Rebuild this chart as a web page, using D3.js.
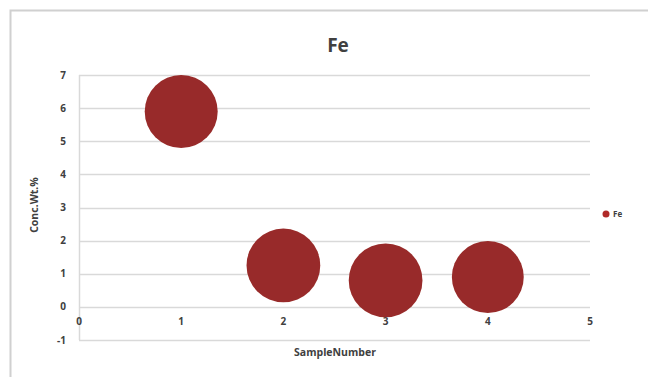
<!DOCTYPE html>
<html>
<head>
<meta charset="utf-8">
<script src="https://cdn.jsdelivr.net/npm/d3@7"></script>
<style>
  body { margin: 0; background: #fff; }
  text { font-family: "Open Sans", "Liberation Sans", sans-serif; fill: #404040; }
</style>
</head>
<body>
<div id="chart"></div>
<script>
// data
var sampleNumber = [1, 2, 3, 4];
var concWt = [5.9, 1.25, 0.8, 0.9];
var bubbleSize = [1, 1.02, 1.02, 0.97];
var xTicks = [0, 1, 2, 3, 4, 5];
var yTicks = [-1, 0, 1, 2, 3, 4, 5, 6, 7];
var seriesName = 'Fe';

var W = 648, H = 377;
var margin = {top: 75, right: 58, bottom: 37, left: 79},
    width = W - margin.left - margin.right,
    height = H - margin.top - margin.bottom;

var svg = d3.select('#chart').append('svg')
    .attr('width', W)
    .attr('height', H);

// chart frame (only left and top edges are in view)
svg.append('path')
    .attr('d', 'M10.5,' + H + 'V10.5H' + W)
    .attr('fill', 'none')
    .attr('stroke', '#d0d0d0')
    .attr('stroke-width', 2);

var g = svg.append('g')
    .attr('transform', 'translate(' + margin.left + ',' + margin.top + ')');

var x = d3.scaleLinear().domain([0, 5]).range([0, 511]);
var y = d3.scaleLinear().domain([-1, 7]).range([265, 0]);
var r = d3.scaleSqrt().domain([0, 1]).range([0, 36.5]);

// gridlines
g.selectAll('.grid')
    .data(yTicks)
  .enter().append('line')
    .attr('x1', 0)
    .attr('x2', x(5))
    .attr('y1', function(d) { return Math.round(y(d)) + 0.5; })
    .attr('y2', function(d) { return Math.round(y(d)) + 0.5; })
    .attr('stroke', '#d9d9d9')
    .attr('stroke-width', 1.5);

// vertical axis line
g.append('line')
    .attr('x1', 0.5).attr('x2', 0.5)
    .attr('y1', y(7)).attr('y2', y(-1))
    .attr('stroke', '#d9d9d9')
    .attr('stroke-width', 1.5);

// y tick labels
g.selectAll('.ylab')
    .data(yTicks)
  .enter().append('text')
    .attr('x', -13)
    .attr('y', function(d) { return y(d); })
    .attr('dy', '0.35em')
    .attr('text-anchor', 'end')
    .style('font-size', '10px')
    .style('font-weight', 'bold')
    .text(function(d) { return d; });

// x tick labels (axis crosses at y = 0, labels sit below it)
g.selectAll('.xlab')
    .data(xTicks)
  .enter().append('text')
    .attr('x', function(d) { return x(d); })
    .attr('y', y(0) + 18)
    .attr('text-anchor', 'middle')
    .style('font-size', '10px')
    .style('font-weight', 'bold')
    .text(function(d) { return d; });

// bubbles
var shadow = svg.append('defs').append('filter')
    .attr('id', 'soft')
    .attr('x', '-20%').attr('y', '-20%').attr('width', '140%').attr('height', '140%');
shadow.append('feGaussianBlur').attr('stdDeviation', 0.6);

g.selectAll('.bubble')
    .data(sampleNumber)
  .enter().append('circle')
    .attr('cx', function(d) { return x(d); })
    .attr('cy', function(d, i) { return y(concWt[i]); })
    .attr('r', function(d, i) { return r(bubbleSize[i]); })
    .attr('fill', '#982b29')
    .attr('filter', 'url(#soft)');

// title
svg.append('text')
    .attr('x', 338)
    .attr('y', 52)
    .attr('text-anchor', 'middle')
    .style('font-size', '19px')
    .style('font-weight', 'bold')
    .text('Fe');

// axis titles
svg.append('text')
    .attr('x', 335)
    .attr('y', 356)
    .attr('text-anchor', 'middle')
    .style('font-size', '10.5px')
    .style('font-weight', 'bold')
    .text('SampleNumber');

svg.append('text')
    .attr('transform', 'translate(38,205) rotate(-90)')
    .attr('text-anchor', 'middle')
    .style('font-size', '10.5px')
    .style('font-weight', 'bold')
    .text('Conc.Wt.%');

// legend
var legend = svg.append('g').attr('transform', 'translate(606,214)');
legend.append('circle')
    .attr('r', 3.5)
    .attr('fill', '#b02a28');
legend.append('text')
    .attr('x', 7)
    .attr('dy', '0.35em')
    .style('font-size', '8px')
    .style('font-weight', 'bold')
    .text(seriesName);
</script>
</body>
</html>
